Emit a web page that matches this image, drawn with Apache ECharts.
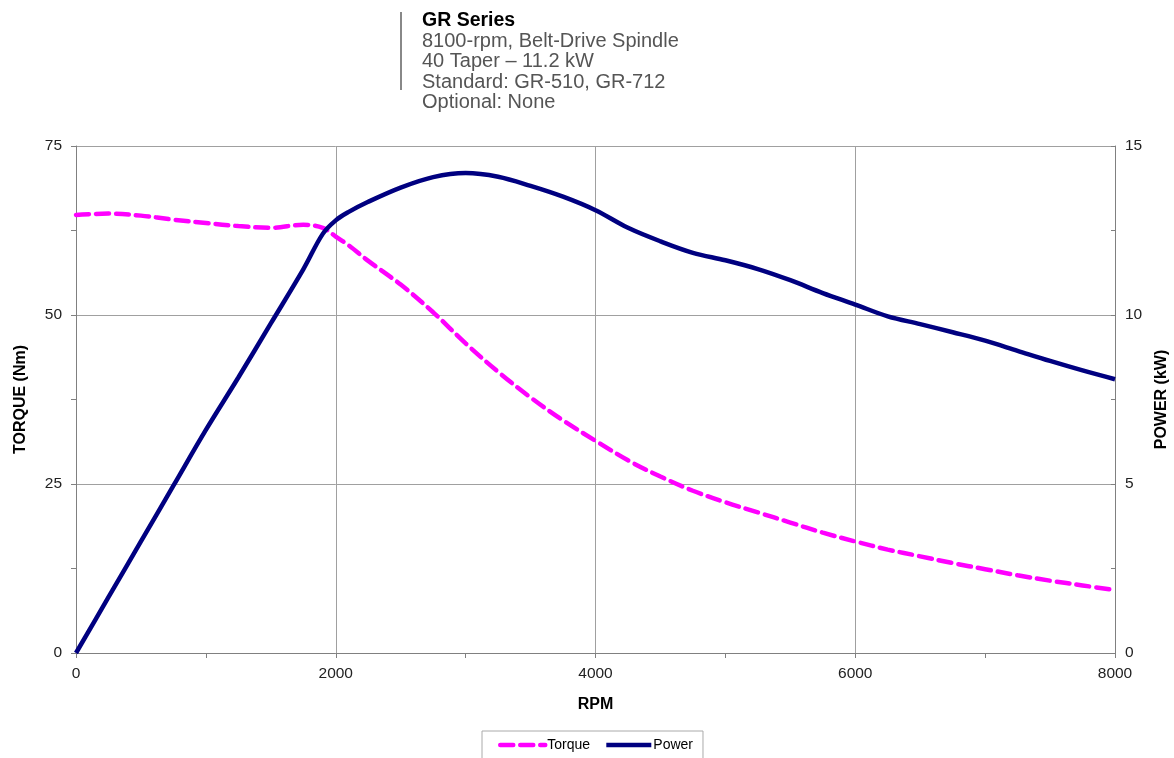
<!DOCTYPE html>
<html>
<head>
<meta charset="utf-8">
<script src="https://cdn.jsdelivr.net/npm/echarts@6/dist/echarts.min.js"></script>
<style>
html,body{margin:0;padding:0;background:#fff;}
#c{width:1174px;height:758px;}
</style>
</head>
<body>
<div id="c"></div>
<script>
var titleText = 'GR Series';
var subLines = ['8100-rpm, Belt-Drive Spindle', '40 Taper \u2013 11.2 kW', 'Standard: GR-510, GR-712', 'Optional: None'];
var rpm = [0,250,500,750,1000,1250,1500,1750,1900,2000,2100,2250,2500,2750,3000,3250,3500,3750,4000,4250,4500,4750,5000,5250,5500,5750,6000,6250,6500,6750,7000,7250,7500,7750,8000];
var torque = [64.8,65.0,64.7,64.1,63.6,63.15,62.9,63.35,62.9,61.6,60.3,58.0,54.5,50.4,45.8,41.6,37.8,34.4,31.4,28.5,26.1,24.0,22.3,20.8,19.3,17.8,16.5,15.3,14.3,13.3,12.4,11.5,10.7,10.0,9.3];
var power = [0,1.65,3.3,4.95,6.6,8.15,9.75,11.35,12.4,12.8,13.05,13.35,13.77,14.08,14.2,14.09,13.82,13.5,13.1,12.58,12.18,11.84,11.62,11.36,11.03,10.65,10.31,9.96,9.73,9.49,9.24,8.94,8.64,8.36,8.1];

var FONT = '"Liberation Sans", Arial, sans-serif';
function pairs(xs, ys){ return xs.map(function(x,i){ return [x, ys[i]]; }); }

var chart = echarts.init(document.getElementById('c'), null, {renderer:'canvas'});
chart.setOption({
  animation: false,
  backgroundColor: '#fff',
  title: {
    text: titleText,
    subtext: subLines.join('\n'),
    left: 422, top: 10, padding: 0, itemGap: 0,
    textStyle: {fontFamily: FONT, fontSize: 19.5, fontWeight: 'bold', color: '#000', lineHeight: 21},
    subtextStyle: {fontFamily: FONT, fontSize: 20, color: '#555', lineHeight: 20.5}
  },
  graphic: [{
    type: 'rect', left: 400, top: 12, shape: {width: 2, height: 78},
    style: {fill: '#888'}
  }],
  grid: {left: 76, right: 59, top: 146, bottom: 105, containLabel: false, outerBoundsMode: 'none'},
  legend: {
    top: 731, left: 482,
    padding: [7, 10, 12, 16],
    borderColor: '#aaa', borderWidth: 1,
    itemWidth: 45, itemHeight: 14, itemGap: 14,
    itemStyle: {opacity: 0},
    lineStyle: {width: 4.5},
    textStyle: {fontFamily: FONT, fontSize: 14, color: '#000', padding: [0,0,0,-3]},
    data: ['Torque', 'Power']
  },
  xAxis: {
    type: 'value', min: 0, max: 8000, interval: 2000,
    name: 'RPM', nameLocation: 'middle', nameGap: 44,
    nameTextStyle: {fontFamily: FONT, fontSize: 16, fontWeight: 'bold', color: '#000'},
    axisLine: {show: true, lineStyle: {color: '#808080', width: 1}},
    axisTick: {show: true, length: 5, lineStyle: {color: '#808080'}},
    minorTick: {show: true, splitNumber: 2, length: 5, lineStyle: {color: '#808080'}},
    axisLabel: {fontFamily: FONT, fontSize: 15.5, color: '#222', margin: 13,
      formatter: function(v){ return String(v); }},
    splitLine: {show: true, lineStyle: {color: '#a0a0a0', width: 1}}
  },
  yAxis: [{
    type: 'value', min: 0, max: 75, interval: 25, position: 'left',
    name: 'TORQUE (Nm)', nameLocation: 'middle', nameGap: 47, nameRotate: 90,
    nameTextStyle: {fontFamily: FONT, fontSize: 16, fontWeight: 'bold', color: '#000'},
    axisLine: {show: true, lineStyle: {color: '#808080', width: 1}},
    axisTick: {show: true, length: 5, lineStyle: {color: '#808080'}},
    minorTick: {show: true, splitNumber: 2, length: 5, lineStyle: {color: '#808080'}},
    axisLabel: {fontFamily: FONT, fontSize: 15.5, color: '#222', margin: 14},
    splitLine: {show: true, lineStyle: {color: '#a0a0a0', width: 1}}
  }, {
    type: 'value', min: 0, max: 15, interval: 5, position: 'right',
    name: 'POWER (kW)', nameLocation: 'middle', nameGap: 31, nameRotate: 90,
    nameTextStyle: {fontFamily: FONT, fontSize: 16, fontWeight: 'bold', color: '#000'},
    axisLine: {show: true, lineStyle: {color: '#808080', width: 1}},
    axisTick: {show: true, length: 4, inside: true, lineStyle: {color: '#808080'}},
    minorTick: {show: true, splitNumber: 2, length: 4, lineStyle: {color: '#808080'}},
    axisLabel: {fontFamily: FONT, fontSize: 15.5, color: '#222', margin: 10},
    splitLine: {show: false}
  }],
  series: [{
    name: 'Torque', type: 'line', yAxisIndex: 0, smooth: 0.35,
    showSymbol: false, symbol: 'none',
    data: pairs(rpm, torque),
    itemStyle: {color: '#FF00FF'},
    lineStyle: {color: '#FF00FF', width: 4.5, type: [13, 7], cap: 'round'},
    z: 3
  }, {
    name: 'Power', type: 'line', yAxisIndex: 1, smooth: 0.35,
    showSymbol: false, symbol: 'none',
    data: pairs(rpm, power),
    itemStyle: {color: '#000080'},
    lineStyle: {color: '#000080', width: 4.5},
    z: 4
  }]
});
</script>
</body>
</html>
